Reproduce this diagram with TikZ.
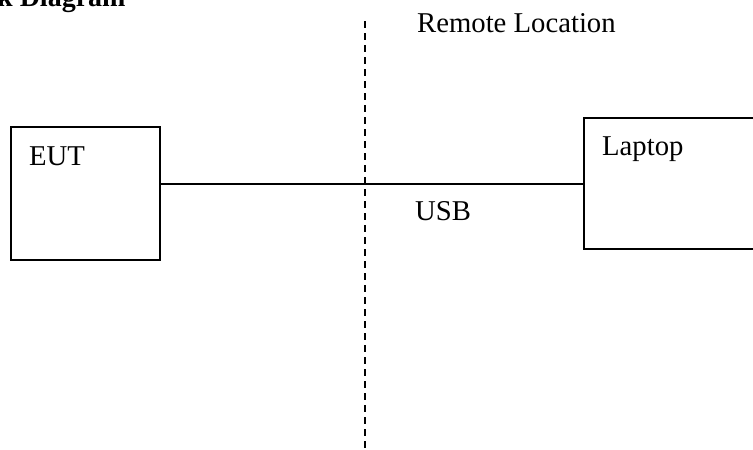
\documentclass[tikz,border=0pt]{standalone}
\usepackage{fontspec}
\setmainfont{Liberation Serif}
\begin{document}
\begin{tikzpicture}[x=1pt,y=-1pt,
  box/.style={draw, line width=1.6pt, inner sep=0pt, anchor=north west},
  lbl/.style={font=\fontsize{28.7}{32}\selectfont, inner sep=0pt, anchor=base west},
  wire/.style={line width=1.6pt},
  divider/.style={line width=1.6pt, dash pattern=on 7pt off 5pt}]
\useasboundingbox (0,0) rectangle (753,450);
\clip (0,0) rectangle (753,450);
\node[box, minimum width=149pt, minimum height=133pt] (eut) at (10,126) {};
\node[box, minimum width=176pt, minimum height=131pt] (laptop) at (583,117) {};
\node[lbl] (eutlbl) at (29,165) {EUT};
\node[lbl] (laptoplbl) at (602,155) {Laptop};
\node[lbl] (usb) at (415,220) {USB};
\node[lbl] (remote) at (417,32) {Remote Location};
\node[lbl, font=\bfseries\fontsize{28}{32}\selectfont] (title) at (-3,6) {k Diagram};
\coordinate (dtop) at (365,21);
\coordinate (dbot) at (365,452);
\draw[divider] (dtop) -- (dbot);
\draw[wire] (eut.east |- 0,184) -- (laptop.west |- 0,184);
\end{tikzpicture}
\end{document}
